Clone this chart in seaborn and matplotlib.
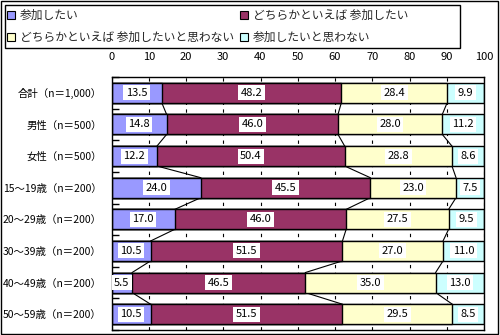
import matplotlib
matplotlib.use("Agg")
import matplotlib.pyplot as plt
import seaborn as sns
import numpy as np
import pandas as pd
from matplotlib.patches import Patch, Rectangle

categories = ["合計（n＝1,000）", "男性（n＝500）", "女性（n＝500）", "15～19歳（n＝200）",
              "20～29歳（n＝200）", "30～39歳（n＝200）", "40～49歳（n＝200）", "50～59歳（n＝200）"]
series_names = ["参加したい", "どちらかといえば 参加したい",
                "どちらかといえば 参加したいと思わない", "参加したいと思わない"]
want = [13.5, 14.8, 12.2, 24.0, 17.0, 10.5, 5.5, 10.5]
rather_want = [48.2, 46.0, 50.4, 45.5, 46.0, 51.5, 46.5, 51.5]
rather_not = [28.4, 28.0, 28.8, 23.0, 27.5, 27.0, 35.0, 29.5]
not_want = [9.9, 11.2, 8.6, 7.5, 9.5, 11.0, 13.0, 8.5]
colors = ["#9999FF", "#993366", "#FFFFCC", "#CCFFFF"]
xticks = list(range(0, 101, 10))

sns.set_theme(style="white")
plt.rcParams["font.family"] = ["Noto Sans CJK JP", "DejaVu Sans"]

vals = np.array([want, rather_want, rather_not, not_want])
cum = np.cumsum(vals, axis=0)

fig = plt.figure(figsize=(5.0, 3.35), dpi=100)
ax = fig.add_axes([111.5 / 500, 1 - 330 / 335, (484 - 111.5) / 500, (330 - 77) / 335])

barw = 0.63
for k in range(3, -1, -1):
    df = pd.DataFrame({"cat": categories, "val": cum[k]})
    sns.barplot(data=df, x="val", y="cat", orient="h", color=colors[k], width=barw,
                edgecolor="black", linewidth=1.0, saturation=1, ax=ax, zorder=2)

# series lines
for k in range(3):
    for i in range(len(categories) - 1):
        ax.plot([cum[k][i], cum[k][i + 1]], [i + barw / 2, i + 1 - barw / 2],
                color="black", lw=0.8, zorder=1.5)

# labels
for k in range(4):
    for i in range(len(categories)):
        c = cum[k][i] - vals[k][i] / 2
        ax.text(c, i, f"{vals[k][i]:.1f}", ha="center", va="center", fontsize=8,
                color="black", zorder=4,
                bbox=dict(boxstyle="square,pad=0.22", fc="white", ec="none"))

ax.set_xlim(0, 100)
ax.set_ylim(len(categories) - 0.5, -0.5)
ax.set_xticks(xticks)
ax.set_xticklabels([str(t) for t in xticks])
ax.xaxis.tick_top()
ax.tick_params(axis="x", length=0, pad=11, labelsize=8, colors="black")
ax.tick_params(axis="y", which="major", length=0, pad=7, labelsize=7.5, colors="black")
ax.set_yticks(np.arange(-0.5, len(categories), 1), minor=True)
ax.tick_params(axis="y", which="minor", direction="in", length=5, width=1, color="black", left=True)
ax.set_xlabel("")
ax.set_ylabel("")
ax.grid(axis="x", color="black", linestyle=(0, (3, 4)), linewidth=0.8)
ax.grid(axis="y", visible=False)
ax.set_axisbelow(True)
for s in ax.spines.values():
    s.set_visible(True)
    s.set_color("black")
    s.set_linewidth(1.0)

# legend (row-wise order)
order = [0, 2, 1, 3]
handles = [Patch(facecolor=colors[j], edgecolor="black", linewidth=0.8) for j in order]
labels = [series_names[j] for j in order]
fig.legend(handles, labels, ncol=2, loc="upper left",
           bbox_to_anchor=(7 / 500, 1 - 9 / 335), frameon=False, fontsize=8.5,
           handlelength=0.7, handleheight=0.7, handletextpad=0.4,
           columnspacing=0.5, labelspacing=0.75, borderaxespad=0, borderpad=0)
fig.patches.append(Rectangle((5 / 500, 1 - 48 / 335), 455 / 500, 43 / 335,
                             transform=fig.transFigure, fill=False, ec="black", lw=1.0))
fig.patches.append(Rectangle((1 / 500, 1 / 335), 497 / 500, 333 / 335,
                             transform=fig.transFigure, fill=False, ec="black", lw=1.0))

fig.savefig("out.png", dpi=100)
